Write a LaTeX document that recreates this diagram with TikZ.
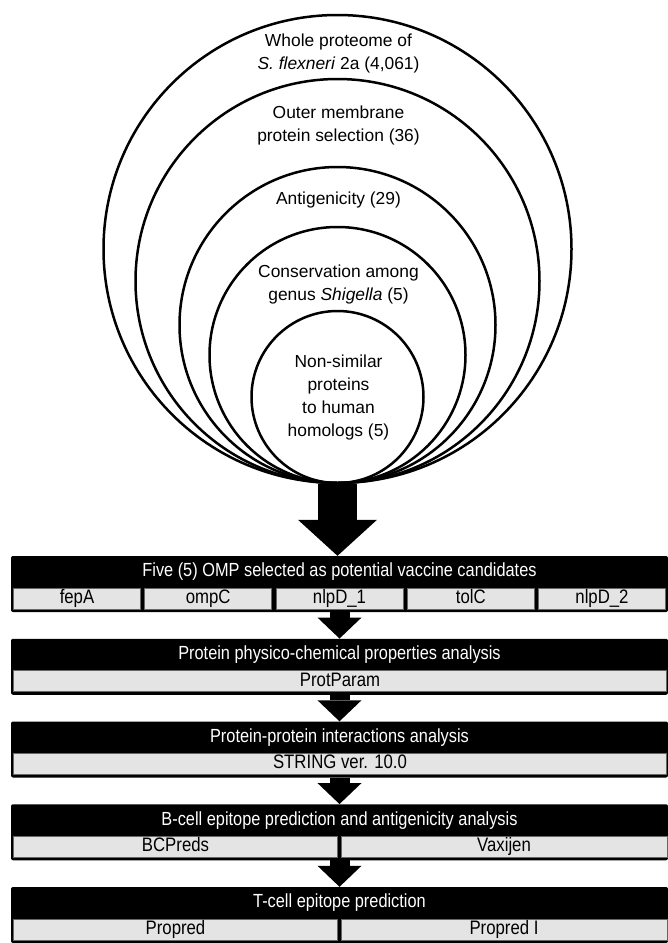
\documentclass[tikz,border=0pt]{standalone}
\usepackage{fontspec}
\setmainfont{Liberation Sans}
\newfontfamily\condfont[FakeStretch=0.86]{Liberation Sans}
\usetikzlibrary{arrows.meta}
\definecolor{cellgrey}{HTML}{E4E4E4}
\tikzset{
  ring/.style={circle, draw, line width=2.5pt, inner sep=0pt},
  ringtxt/.style={align=center, inner sep=0pt, font=\fontsize{17.4}{23}\selectfont},
  blackbox/.style={rectangle, fill=black, rounded corners=2pt, minimum width=657pt, minimum height=56pt, inner sep=0pt},
  headtxt/.style={text=white, inner sep=0pt, text height=13.5pt, text depth=4pt, font=\condfont\fontsize{19}{22}\selectfont},
  cell/.style={rectangle, fill=cellgrey, draw=black!60, line width=0.7pt, minimum height=21pt, inner sep=0pt, text height=13.5pt, text depth=4pt, font=\condfont\fontsize{19.5}{21}\selectfont},
  bigarrow/.style={line width=39pt, -{Triangle[length=36pt,width=79pt,line width=0pt]}},
  smallarrow/.style={line width=20pt, -{Triangle[length=21pt,width=44pt,line width=0pt]}}
}
\begin{document}
\begin{tikzpicture}[x=1pt,y=-1pt]
\useasboundingbox (0,0) rectangle (668,943);

% nested selection circles
\node[ring, minimum size=468pt] (whole) at (337.5,249) {};
\node[ring, minimum size=404pt] (outer) at (337.5,281) {};
\node[ring, minimum size=316pt] (anti) at (337.5,325) {};
\node[ring, minimum size=256pt] (cons) at (337.5,355) {};
\node[ring, minimum size=172pt] (nonsim) at (337.5,397) {};

\node[ringtxt] (wholetxt) at (338.5,53.5) {Whole proteome of\\\textit{S. flexneri} 2a (4,061)};
\node[ringtxt] (outertxt) at (338.5,125) {Outer membrane\\protein selection (36)};
\node[ringtxt] (antitxt) at (338.5,200) {Antigenicity (29)};
\node[ringtxt] (constxt) at (338.5,284) {Conservation among\\genus \textit{Shigella} (5)};
\node[ringtxt] (nonsimtxt) at (338.5,397.5) {Non-similar\\proteins\\to human\\homologs (5)};

% analysis boxes
\node[blackbox] (five) at (339.5,584) {};
\node[headtxt] (fivehead) at (339.5,572) {Five (5) OMP selected as potential vaccine candidates};
\node[cell, minimum width=127pt] (fepa) at (77,598.5) {fepA};
\node[cell, minimum width=127pt] (ompc) at (208.2,598.5) {ompC};
\node[cell, minimum width=127pt] (nlpdone) at (339.5,598.5) {nlpD\_1};
\node[cell, minimum width=127pt] (tolc) at (470.8,598.5) {tolC};
\node[cell, minimum width=127pt] (nlpdtwo) at (602,598.5) {nlpD\_2};

\node[blackbox] (physchem) at (339.5,666.75) {};
\node[headtxt] (physchemhead) at (339.5,654.75) {Protein physico-chemical properties analysis};
\node[cell, minimum width=653pt] (protparam) at (340,681.25) {ProtParam};

\node[blackbox] (ppi) at (339.5,749.5) {};
\node[headtxt] (ppihead) at (339.5,737.5) {Protein-protein interactions analysis};
\node[cell, minimum width=653pt] (string) at (340,764) {STRING ver. 10.0};

\node[blackbox] (bcell) at (339.5,832.25) {};
\node[headtxt] (bcellhead) at (339.5,820.25) {B-cell epitope prediction and antigenicity analysis};
\node[cell, minimum width=324pt] (bcpreds) at (175.5,846.75) {BCPreds};
\node[cell, minimum width=326pt] (vaxijen) at (504,846.75) {Vaxijen};

\node[blackbox] (tcell) at (339.5,915) {};
\node[headtxt] (tcellhead) at (339.5,903) {T-cell epitope prediction};
\node[cell, minimum width=324pt] (propred) at (175.5,929.5) {Propred};
\node[cell, minimum width=326pt] (propredi) at (504,929.5) {Propred I};

\draw[bigarrow] (whole.south) -- (whole.south |- five.north);
\draw[smallarrow] (five.south) -- (physchem.north);
\draw[smallarrow] (physchem.south) -- (ppi.north);
\draw[smallarrow] (ppi.south) -- (bcell.north);
\draw[smallarrow] (bcell.south) -- (tcell.north);
\end{tikzpicture}
\end{document}
